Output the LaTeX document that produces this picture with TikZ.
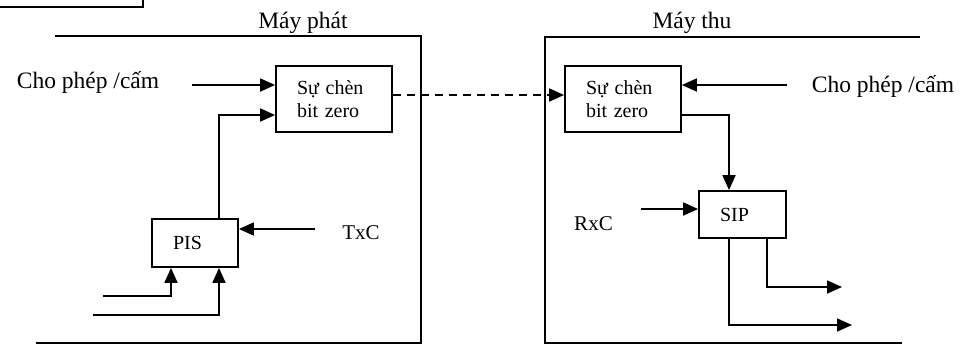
\documentclass[tikz,border=0pt]{standalone}
\usepackage{fontspec}
\setmainfont{Liberation Serif}
\usepackage{tikz}
\usetikzlibrary{arrows.meta}

\begin{document}
\begin{tikzpicture}[x=1pt,y=-1pt,line width=1.8pt,
  blk/.style={draw,fill=white,inner xsep=21pt,inner ysep=0pt,align=left,
    font=\fontsize{20}{23}\selectfont},
  lbl/.style={anchor=base,inner sep=0pt,font=\fontsize{23.5}{26}\selectfont},
  clk/.style={anchor=base,inner sep=0pt,font=\fontsize{21}{24}\selectfont},
  arr/.style={-{Triangle[length=15pt,width=13pt]}}]
\useasboundingbox (0,0) rectangle (970,360);

% frames
\draw (0,7) -- (143,7) -- (143,0);
\draw (55,36) -- (421,36) -- (421,343) -- (36,343);
\draw (920,37) -- (545,37) -- (545,343) -- (902,343);

\node [lbl] (mp) at (303,28) {Máy phát};
\node [lbl] (mt) at (692,28) {Máy thu};

\node [blk,text width=74pt,minimum height=66pt] (zt) at (334,99) {Sự chèn\\bit zero};
\node [blk,text width=44pt,minimum height=48pt] (pis) at (195,243) {PIS};
\node [blk,text width=74pt,minimum height=66pt] (zr) at (623,99) {Sự chèn\\bit zero};
\node [blk,text width=45pt,minimum height=47pt] (sip) at (742.5,214.5) {SIP};

\node [lbl] (en1) at (88,88) {Cho phép /cấm};
\node [lbl] (en2) at (883,92) {Cho phép /cấm};
\node [clk] (txc) at (361,239) {TxC};
\node [clk] (rxc) at (593.5,230) {RxC};

\coordinate (c1) at (192,85);
\coordinate (c2) at (315,229);
\coordinate (c3) at (787,85);
\coordinate (c4) at (641,209);
\coordinate (i1) at (103,296);
\coordinate (i2) at (93,315);
\coordinate (o1) at (842,287);
\coordinate (o2) at (852,325);

\draw [arr] (c1) -- (c1 -| zt.west);
\draw [arr] ([xshift=24pt]pis.north) |- ([yshift=-16pt]zt.west);
\draw [arr] (c2) -- (c2 -| pis.east);
\draw [arr] (i1) -| ([xshift=-24pt]pis.south);
\draw [arr] (i2) -| ([xshift=24pt]pis.south);
\draw [arr,dash pattern=on 8pt off 6pt] ([yshift=4pt]zt.east) -- ([yshift=4pt]zr.west);
\draw [arr] (c3) -- (c3 -| zr.east);
\draw [arr] ([yshift=-16pt]zr.east) -| ([xshift=-13.5pt]sip.north);
\draw [arr] (c4) -- (c4 -| sip.west);
\draw [arr] ([xshift=24.5pt]sip.south) |- (o1);
\draw [arr] ([xshift=-13.5pt]sip.south) |- (o2);
\end{tikzpicture}
\end{document}
